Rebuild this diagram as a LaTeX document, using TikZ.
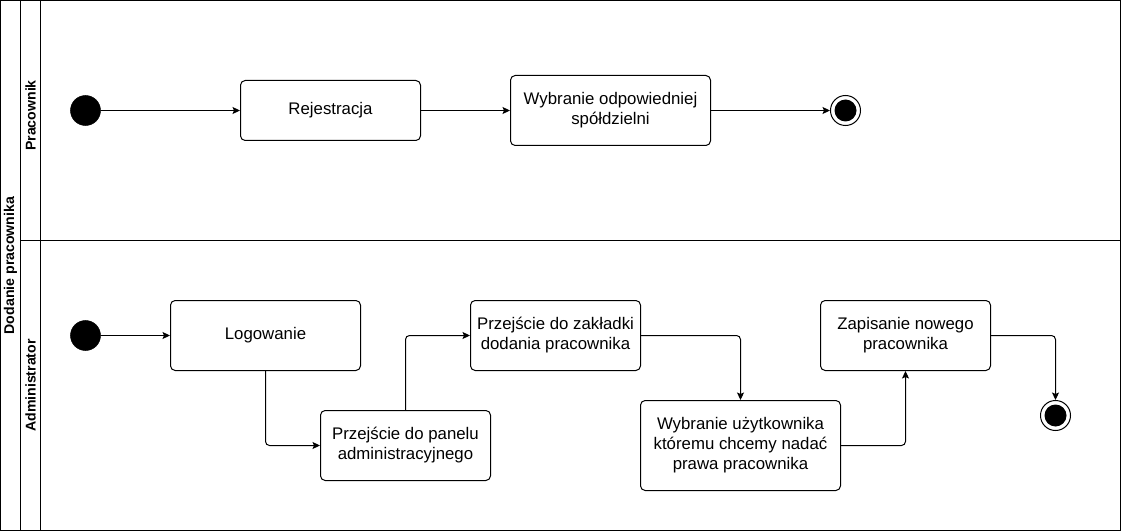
\documentclass[tikz,border=0pt]{standalone}
\usepackage{fontspec}
\setmainfont{Liberation Sans}
\usetikzlibrary{arrows.meta}
\def\pxu{0.75pt}
\tikzset{
  act/.style={draw, line width=0.75pt, rounded corners=3.5pt, align=center, inner sep=0pt,
    font=\fontsize{12.6}{15}\selectfont},
  startc/.style={circle, fill=black, draw=black, minimum size=30*\pxu, inner sep=0pt},
  endc/.style={circle, fill=white, draw=black, line width=0.75pt, minimum size=30*\pxu, inner sep=0pt},
  flow/.style={draw, line width=0.75pt, rounded corners=3pt, -{Stealth[length=7.5*\pxu, width=7*\pxu, inset=1.5*\pxu]}},
  lanelbl/.style={rotate=90, font=\fontsize{10.6}{12}\bfseries},
  lane/.style={line width=0.75pt}
}
\begin{document}
\begin{tikzpicture}[x=0.75pt, y=-0.75pt]
\useasboundingbox (-0.5,-0.5) rectangle (1120.5,530.5);
% pool and lanes
\draw[lane] (0,0) rectangle (1120,530);
\draw[lane] (20,0) -- (20,530);
\draw[lane] (40,0) -- (40,530);
\draw[lane] (20,240) -- (1120,240);
\node[lanelbl] (pool) at (10,265) {Dodanie pracownika};
\node[lanelbl] (l1) at (30,115) {Pracownik};
\node[lanelbl] (l2) at (30,385) {Administrator};
% Pracownik lane
\node[startc] (s1) at (85,110) {};
\node[act, minimum width=180*\pxu, minimum height=60*\pxu] (rej) at (330,110) {Rejestracja};
\node[act, minimum width=200*\pxu, minimum height=70*\pxu] (wyb) at (610,110) {Wybranie odpowiedniej\\spółdzielni};
\node[endc] (e1) at (845,110) {};
\fill (e1.center) circle (11*\pxu);
\draw[flow] (s1) -- (rej);
\draw[flow] (rej) -- (wyb);
\draw[flow] (wyb) -- (e1);
% Administrator lane
\node[startc] (s2) at (85,335) {};
\node[act, minimum width=190*\pxu, minimum height=70*\pxu] (log) at (265,335) {Logowanie};
\node[act, minimum width=170*\pxu, minimum height=70*\pxu] (pan) at (405,445) {Przejście do panelu\\administracyjnego};
\node[act, minimum width=170*\pxu, minimum height=70*\pxu] (zak) at (555,335) {Przejście do zakładki\\dodania pracownika};
\node[act, minimum width=200*\pxu, minimum height=90*\pxu] (uzy) at (740,445) {Wybranie użytkownika\\któremu chcemy nadać\\prawa pracownika};
\node[act, minimum width=170*\pxu, minimum height=70*\pxu] (zap) at (905,335) {Zapisanie nowego\\pracownika};
\node[endc] (e2) at (1055,415) {};
\fill (e2.center) circle (11*\pxu);
\draw[flow] (s2) -- (log);
\draw[flow] (log.south) |- (pan.west);
\draw[flow] (pan.north) |- (zak.west);
\draw[flow] (zak.east) -| (uzy.north);
\draw[flow] (uzy.east) -| (zap.south);
\draw[flow] (zap.east) -| (e2.north);
\end{tikzpicture}
\end{document}
